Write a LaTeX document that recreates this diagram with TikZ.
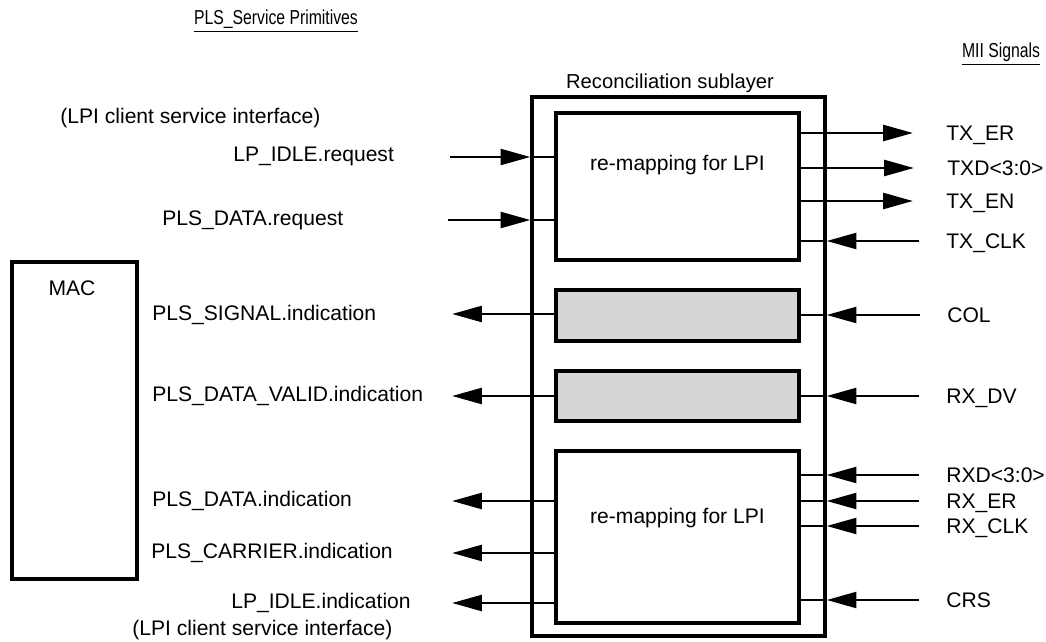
\documentclass[tikz,border=0pt]{standalone}
\usepackage{fontspec}
\setmainfont{Liberation Sans}
\usetikzlibrary{arrows.meta}

\tikzset{
  box/.style={draw, line width=1.8pt, inner sep=0pt, anchor=center},
  shadebox/.style={box, fill=black!16},
  wire/.style={line width=1.7pt},
  sig/.style={wire, -{Triangle[length=17pt,width=9pt]}},
  lbl/.style={font=\fontsize{12}{14}\selectfont, inner sep=0pt, text height=8.6pt, text depth=0pt},
  head/.style={font=\fontsize{11.5}{13}\selectfont, inner sep=0pt},
}
\newcommand{\narrowhead}[1]{\scalebox{0.78}[1]{\underline{#1}}}

\begin{document}
\begin{tikzpicture}[x=0.02cm, y=-0.02cm]
\useasboundingbox (0,0) rectangle (1046,642);

\def\gapout{0.66cm}
\def\gapin{0.54cm}

% headers
\node[head] (plshead) at (276,21) {\narrowhead{PLS\_Service Primitives}};
\node[head] (miihead) at (1001,54) {\narrowhead{MII Signals}};

% blocks
\node[box, minimum width=2.5cm, minimum height=6.34cm] (mac) at (74.5,420.5) {};
\node[lbl] (mactxt) at (72,288) {MAC};
\node[box, minimum width=5.86cm, minimum height=10.78cm] (rs) at (678.5,366.5) {};
\node[lbl, font=\fontsize{11.5}{14}\selectfont] (rstxt) at (670,81) {Reconciliation sublayer};
\node[box, minimum width=4.86cm, minimum height=2.94cm] (txmap) at (677.5,186.5) {};
\node[lbl] (txtxt) at (677.5,163) {re-mapping for LPI};
\node[shadebox, minimum width=4.86cm, minimum height=1.02cm] (colbox) at (677.5,315.5) {};
\node[shadebox, minimum width=4.86cm, minimum height=1.0cm] (dvbox) at (677.5,396) {};
\node[box, minimum width=4.86cm, minimum height=3.44cm] (rxmap) at (677.5,537) {};
\node[lbl] (rxtxt) at (677.5,516) {re-mapping for LPI};

% PLS side
\node[lbl, anchor=west] (lpitop) at (60,116) {(LPI client service interface)};
\node[lbl, anchor=west] (lpreq) at (233,154) {LP\_IDLE.request};
\node[lbl, anchor=west] (datareq) at (162,218) {PLS\_DATA.request};
\node[lbl, anchor=west] (sigind) at (152,313) {PLS\_SIGNAL.indication};
\node[lbl, anchor=west] (validind) at (152,394) {PLS\_DATA\_VALID.indication};
\node[lbl, anchor=west] (dataind) at (152,499) {PLS\_DATA.indication};
\node[lbl, anchor=west] (carrind) at (151,551) {PLS\_CARRIER.indication};
\node[lbl, anchor=west] (lpind) at (231,601) {LP\_IDLE.indication};
\node[lbl, anchor=west] (lpibot) at (132,628) {(LPI client service interface)};

\coordinate (lpreqin) at (450,157);
\coordinate (datareqin) at (448,220);
\coordinate (sigout) at (452,314);
\coordinate (validout) at (452,396);
\coordinate (dataout) at (452,501);
\coordinate (carrout) at (452,553);
\coordinate (lpout) at (452,603);

\draw[sig] (lpreqin) -- (rs.west |- lpreqin);
\draw[wire] (rs.west |- lpreqin) -- (txmap.west |- lpreqin);
\draw[sig] (datareqin) -- (rs.west |- datareqin);
\draw[wire] (rs.west |- datareqin) -- (txmap.west |- datareqin);
\draw[sig] (colbox.west |- sigout) -- (sigout);
\draw[sig] (dvbox.west |- validout) -- (validout);
\draw[sig] (rxmap.west |- dataout) -- (dataout);
\draw[sig] (rxmap.west |- carrout) -- (carrout);
\draw[sig] (rxmap.west |- lpout) -- (lpout);

% MII side
\node[lbl, anchor=west] (txer) at (946,133) {TX\_ER};
\node[lbl, anchor=west] (txd) at (947,168) {TXD<3:0>};
\node[lbl, anchor=west] (txen) at (946,201) {TX\_EN};
\node[lbl, anchor=west] (txclk) at (946,241) {TX\_CLK};
\node[lbl, anchor=west] (col) at (947,315) {COL};
\node[lbl, anchor=west] (rxdv) at (946,396) {RX\_DV};
\node[lbl, anchor=west] (rxd) at (946,475) {RXD<3:0>};
\node[lbl, anchor=west] (rxer) at (946,501) {RX\_ER};
\node[lbl, anchor=west] (rxclk) at (946,526) {RX\_CLK};
\node[lbl, anchor=west] (crs) at (946,600) {CRS};

\foreach \s in {txer,txd,txen}
  \draw[sig] (txmap.east |- \s.west) -- ([xshift=-\gapout]\s.west);

\foreach \s/\b in {txclk/txmap, col/colbox, rxdv/dvbox, rxd/rxmap, rxer/rxmap, rxclk/rxmap, crs/rxmap}{
  \draw[sig] ([xshift=-\gapin]\s.west) -- (rs.east |- \s.west);
  \draw[wire] (rs.east |- \s.west) -- (\b.east |- \s.west);
}

\end{tikzpicture}
\end{document}
